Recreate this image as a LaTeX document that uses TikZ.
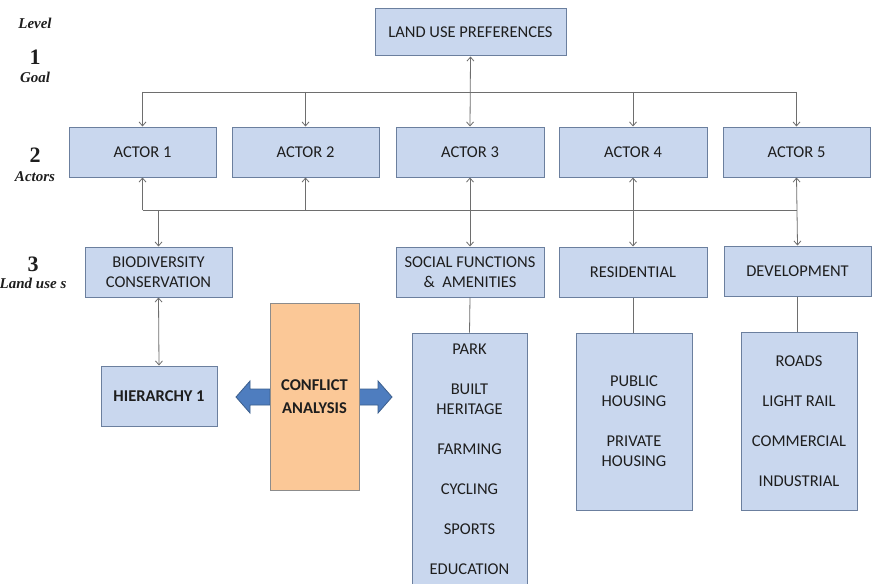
\documentclass[tikz,border=0pt]{standalone}
\usepackage{fontspec}
\setmainfont{Carlito}
\newfontfamily\levelfont{Liberation Serif}
\usetikzlibrary{arrows.meta,calc}
\definecolor{boxfill}{HTML}{C9D7EE}
\definecolor{boxline}{HTML}{6B7F9E}
\definecolor{conflictfill}{HTML}{FBC897}
\definecolor{conflictline}{HTML}{8C8C8C}
\definecolor{blockfill}{HTML}{4E7DBF}
\definecolor{blockline}{HTML}{3B5E8C}
\definecolor{linkgray}{HTML}{6E6E6E}
\definecolor{txt}{HTML}{1E1E1E}
\begin{document}
\begin{tikzpicture}[x=1pt,y=-1pt,
  box/.style={draw=boxline, fill=boxfill, line width=1pt, inner sep=0pt,
    font=\fontsize{16.5}{20}\selectfont, text=txt, align=center},
  item/.style={inner sep=0pt, font=\fontsize{16.5}{20}\selectfont, text=txt, align=center},
  conn/.style={draw=linkgray, line width=0.8pt},
  tip/.style={-{Straight Barb[length=4pt,width=7pt]}},
  dbl/.style={{Straight Barb[length=4pt,width=7pt]}-{Straight Barb[length=4pt,width=7pt]}},
  lvword/.style={inner sep=0pt, text=txt, font=\levelfont\bfseries\itshape\fontsize{15}{18}\selectfont},
  lvnum/.style={inner sep=0pt, text=txt, font=\levelfont\bfseries\fontsize{22}{24}\selectfont},
  block/.style={fill=blockfill, draw=blockline, line width=0.8pt, line join=miter}
]
\fill[white] (0,0) rectangle (874,583);
\useasboundingbox (0,0) rectangle (874,583);

% level labels
\node[lvword] (lvl) at (35,23) {Level};
\node[lvnum]  (n1)  at (35,57) {1};
\node[lvword] (lg)  at (35,77) {Goal};
\node[lvnum]  (n2)  at (35,155) {2};
\node[lvword] (la)  at (35,177) {Actors};
\node[lvnum]  (n3)  at (33,264) {3};
\node[lvword] (ll)  at (33,283) {Land use s};

% goal
\node[box, minimum width=191pt, minimum height=47pt] (pref) at (470.5,32.5) {LAND USE PREFERENCES};

% actors
\node[box, minimum width=147pt, minimum height=50pt] (a1) at (142.5,152) {ACTOR 1};
\node[box, minimum width=147pt, minimum height=50pt] (a2) at (305.5,152) {ACTOR 2};
\node[box, minimum width=148pt, minimum height=50pt] (a3) at (470,152) {ACTOR 3};
\node[box, minimum width=148pt, minimum height=50pt] (a4) at (633,152) {ACTOR 4};
\node[box, minimum width=147pt, minimum height=50pt] (a5) at (796.5,152) {ACTOR 5};

% land uses
\node[box, minimum width=147pt, minimum height=50pt] (bio) at (158.5,272) {BIODIVERSITY\\CONSERVATION};
\node[box, minimum width=148pt, minimum height=50pt] (soc) at (470,272) {SOCIAL FUNCTIONS\\\&\ \ AMENITIES};
\node[box, minimum width=148pt, minimum height=50pt] (res) at (633,272) {RESIDENTIAL};
\node[box, minimum width=147pt, minimum height=50pt] (dev) at (797.5,271) {DEVELOPMENT};

% second tier
\node[box, minimum width=116pt, minimum height=60pt, font=\bfseries\fontsize{16.5}{20}\selectfont] (h1) at (159,396) {HIERARCHY 1};

% block arrows out of the conflict box
\coordinate (cw) at (270,397);
\coordinate (ce) at (359,397);
\draw[block] ($(cw)+(0,-8)$) -- ($(cw)+(-20,-8)$) -- ($(cw)+(-20,-16)$) -- ($(cw)+(-34,0)$)
  -- ($(cw)+(-20,16)$) -- ($(cw)+(-20,8)$) -- ($(cw)+(0,8)$) -- cycle;
\draw[block] ($(ce)+(0,-8)$) -- ($(ce)+(19,-8)$) -- ($(ce)+(19,-16)$) -- ($(ce)+(33,0)$)
  -- ($(ce)+(19,16)$) -- ($(ce)+(19,8)$) -- ($(ce)+(0,8)$) -- cycle;
\node[draw=conflictline, fill=conflictfill, line width=0.8pt, minimum width=89pt, minimum height=187pt,
  inner sep=0pt, align=center, text=txt, font=\bfseries\fontsize{16.5}{23}\selectfont] (conf) at (314.5,396.5) {CONFLICT\\ANALYSIS};

% lists
\node[box, minimum width=115pt, minimum height=260pt] (plist) at (469.5,463) {};
\node[box, minimum width=116pt, minimum height=177pt] (rlist) at (634,421.5) {};
\node[box, minimum width=116pt, minimum height=178pt] (dlist) at (799,421) {};

\node[item] (i1) at (469.5,349) {PARK};
\node[item] (i2) at (469.5,399) {BUILT\\HERITAGE};
\node[item] (i3) at (469.5,449) {FARMING};
\node[item] (i4) at (469.5,489) {CYCLING};
\node[item] (i5) at (469.5,529) {SPORTS};
\node[item] (i6) at (469.5,569) {EDUCATION};

\node[item] (r1) at (634,391.5) {PUBLIC\\HOUSING};
\node[item] (r2) at (634,451.5) {PRIVATE\\HOUSING};

\node[item] (d1) at (799,361) {ROADS};
\node[item] (d2) at (799,401) {LIGHT RAIL};
\node[item] (d3) at (799,441) {COMMERCIAL};
\node[item] (d4) at (799,481) {INDUSTRIAL};

% goal to actors
\coordinate (top) at (0,92);
\draw[conn] (a1.north |- top) -- (a5.north |- top);
\draw[conn,dbl] (pref.south) -- (a3.north);
\draw[conn,tip] (a1.north |- top) -- (a1.north);
\draw[conn,tip] (a2.north |- top) -- (a2.north);
\draw[conn,tip] (a4.north |- top) -- (a4.north);
\draw[conn,tip] (a5.north |- top) -- (a5.north);

% actors to land uses
\coordinate (mid) at (0,210);
\draw[conn] (a1.south |- mid) -- (a5.south |- mid);
\draw[conn,tip] (a1.south |- mid) -- (a1.south);
\draw[conn,tip] (a2.south |- mid) -- (a2.south);
\draw[conn,tip] (bio.north |- mid) -- (bio.north);
\draw[conn,dbl] (a3.south) -- (soc.north);
\draw[conn,dbl] (a4.south) -- (res.north);
\draw[conn,dbl] (a5.south) -- (dev.north);

% land uses to details
\draw[conn,dbl] (bio.south) -- (h1.north);
\draw[conn] (soc.south) -- (plist.north);
\draw[conn] (res.south) -- (res.south |- rlist.north);
\draw[conn] (dev.south) -- (dev.south |- dlist.north);
\end{tikzpicture}
\end{document}
